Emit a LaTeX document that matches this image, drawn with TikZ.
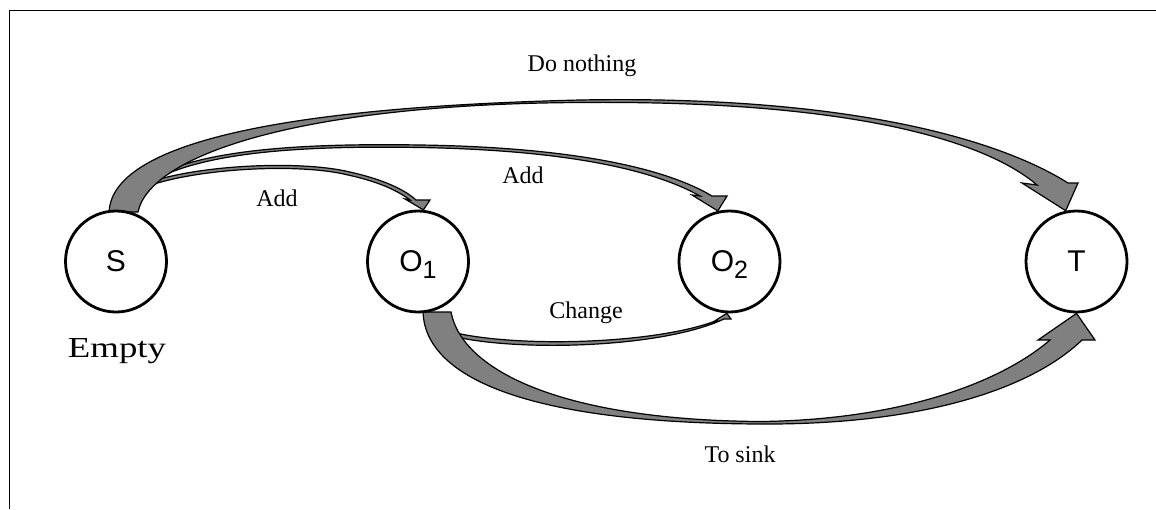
\documentclass[tikz,border=0pt]{standalone}
\usepackage{fontspec}
\setmainfont{Liberation Serif}
\newfontfamily\sansnode{Liberation Sans}
\newfontfamily\emptyfont[FakeStretch=1.27]{Liberation Serif}
\definecolor{ribbon}{RGB}{128,128,128}
\pgfdeclarelayer{bg}
\pgfsetlayers{bg,main}
\tikzset{
  state/.style={circle, draw=black, line width=2.8pt, fill=white, minimum size=101pt, inner sep=0pt, font=\sansnode\fontsize{30}{30}\selectfont},
  lab/.style={anchor=base, inner sep=0pt, font=\fontsize{24}{28}\selectfont},
  emptylab/.style={anchor=base, inner sep=0pt, font=\emptyfont\fontsize{29}{32}\selectfont},
  ribbonshape/.style={draw=black, line width=1.2pt, fill=ribbon, line join=miter},
  frameline/.style={line width=1.4pt}
}
\begin{document}
\begin{tikzpicture}[x=1pt,y=-1pt]
\useasboundingbox (0,0) rectangle (1156,509);
\draw[frameline] (9.5,509) -- (9.5,10.5) -- (1156,10.5);

\node[state] (S) at (116,261.5) {S};
\node[state] (O1) at (418,261.5) {O\raisebox{-7pt}[0pt][0pt]{\fontsize{25}{25}\selectfont 1}};
\node[state] (O2) at (729.5,261.5) {O\raisebox{-7pt}[0pt][0pt]{\fontsize{25}{25}\selectfont 2}};
\node[state] (T) at (1076.5,261.5) {T};

\begin{pgfonlayer}{bg}
% S -> O1 (Add)
\draw[ribbonshape] (150,182) .. controls (200,165) and (300,160) .. (350,172) .. controls (385,180) and (405,190) .. (416,200) -- (430,200) -- (O1.84) -- (405,199) -- (410,200) .. controls (398,191) and (380,182) .. (348,175) .. controls (300,163) and (200,168) .. (148,186) -- cycle;
% S -> O2 (Add)
\draw[ribbonshape] (152,178) .. controls (200,150) and (300,143) .. (420,145) .. controls (560,147) and (660,165) .. (712,196) -- (727,196) -- (O2.103) -- (692,195) -- (700,196) .. controls (650,168) and (560,150) .. (420,147.5) .. controls (300,145.5) and (203,152) .. (150,182) -- cycle;
% S -> T (Do nothing)
\draw[ribbonshape] (109,212) .. controls (112,150) and (250,108) .. (580,100) .. controls (850,95) and (1000,140) .. (1068,183) -- (1078,183) -- (T.102) -- (1022,183) -- (1037,185) .. controls (988,143) and (860,100) .. (580,102.5) .. controls (300,104) and (150,155) .. (138,212) -- cycle;
% O1 -> O2 (Change)
\draw[ribbonshape] (448,335) .. controls (510,352) and (660,349) .. (724,319) -- (731,319) -- (O2.267) -- (713,322) -- (718,320) .. controls (655,345) and (510,348) .. (448,331) -- cycle;
% O1 -> T (To sink)
\draw[ribbonshape] (423,312) .. controls (425,375) and (520,423) .. (760,424) .. controls (920,425) and (1030,390) .. (1082,340) -- (1095,340) -- (T.south) -- (1038,340) -- (1050,340) .. controls (1000,383) and (900,420) .. (760,421.5) .. controls (560,420) and (462,370) .. (451,312) -- cycle;
\end{pgfonlayer}

\node[lab] (lDo) at (582,71) {Do nothing};
\node[lab] (lAdd1) at (277,206) {Add};
\node[lab] (lAdd2) at (523,183) {Add};
\node[lab] (lChange) at (586,318) {Change};
\node[lab] (lSink) at (740,462) {To sink};
\node[emptylab] (lEmpty) at (117,357) {Empty};
\end{tikzpicture}
\end{document}
